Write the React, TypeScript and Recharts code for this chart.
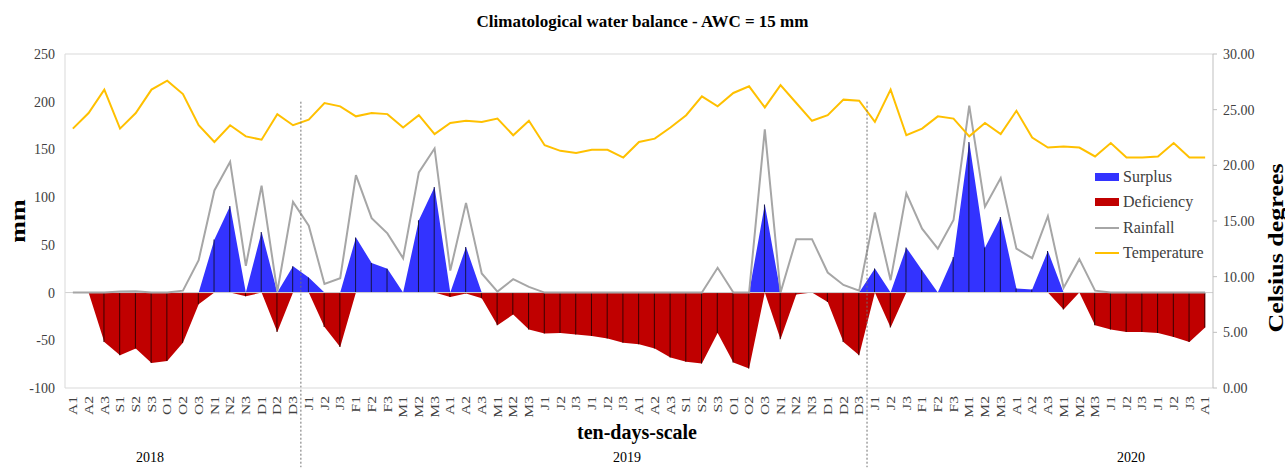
import React from 'react';
import { ComposedChart, Area, Line, Bar, XAxis, YAxis, ReferenceLine } from 'recharts';

const periodLabels = [
  'A1','A2','A3','S1','S2','S3','O1','O2','O3','N1','N2','N3','D1','D2','D3',
  'J1','J2','J3','F1','F2','F3','M1','M2','M3','A1','A2','A3','M1','M2','M3','J1','J2','J3','J1','J2','J3','A1','A2','A3','S1','S2','S3','O1','O2','O3','N1','N2','N3','D1','D2','D3',
  'J1','J2','J3','F1','F2','F3','M1','M2','M3','A1','A2','A3','M1','M2','M3','J1','J2','J3','J1','J2','J3','A1',
];

const temperature = [
  23.3, 24.7, 26.8, 23.3, 24.7, 26.8, 27.6, 26.4, 23.6, 22.1, 23.6, 22.6, 22.3, 24.6, 23.6,
  24.1, 25.6, 25.3, 24.4, 24.7, 24.6, 23.4, 24.5, 22.8, 23.8, 24.0, 23.9, 24.2, 22.7, 24.0, 21.8, 21.3, 21.1, 21.4, 21.4, 20.7, 22.1, 22.4, 23.4, 24.5, 26.2, 25.3, 26.5, 27.1, 25.2, 27.2, 25.6, 24.0, 24.5, 25.9, 25.8,
  23.9, 26.8, 22.7, 23.3, 24.4, 24.2, 22.6, 23.8, 22.8, 24.9, 22.5, 21.6, 21.7, 21.6, 20.8, 22.0, 20.7, 20.7, 20.8, 22.0, 20.7, 20.7,
];

const rainfall = [
  0, 0, 0, 1, 1.5, 0, 0, 2, 34, 107, 137, 28, 112, 1, 95,
  70, 9, 15, 123, 78, 62, 36, 126, 151, 23, 94, 20, 1, 14, 6, 0, 0, 0, 0, 0, 0, 0, 0, 0, 0, 0, 26, 0, 0, 171, 0, 56, 56, 21, 8, 2,
  84, 13, 104, 67, 46, 76, 196, 90, 120, 46, 36, 80, 5, 35, 2, 0, 0, 0, 0, 0, 0, 0,
];

const surplus = [
  0, 0, 0, 0, 0, 0, 0, 0, 0, 55.5, 90.7, 0, 63.5, 0, 27.5,
  15.7, 0, 0, 57.6, 31, 25, 0, 75.7, 110.6, 0, 47.7, 0, 0, 0, 0, 0, 0, 0, 0, 0, 0, 0, 0, 0, 0, 0, 0, 0, 0, 92.4, 0, 0, 0, 0, 0, 0,
  25.1, 0, 47.1, 23.5, 0, 37.3, 157.7, 47.1, 79.2, 4.2, 3.1, 43.6, 0, 0, 0, 0, 0, 0, 0, 0, 0, 0,
];

const deficiency = [
  0, 0, -51.7, -65.6, -58.7, -73.7, -71.6, -52.7, -12.2, 0, 0, -3.9, 0, -41.2, 0,
  0, -36, -57, 0, 0, 0, 0, 0, 0, -4.6, -1, -6, -34.2, -23, -38.8, -43, -42.3, -44, -45.4, -48, -52.7, -54.1, -58.7, -68.1, -72.6, -74.4, -42.3, -73.3, -79.6, 0, -48.9, -2, 0, -9.8, -51.7, -65.6,
  0, -36.5, 0, 0, 0, 0, 0, 0, 0, 0, 0, 0, -17.8, 0, -34.2, -38.8, -41.2, -41.2, -42.3, -46.5, -51.7, -36.7,
];

const yearLabels = ['2018', '2019', '2020'];
const yearBreaks = [14.5, 50.5];
const leftTicks = [-100, -50, 0, 50, 100, 150, 200, 250];
const rightTicks = [0, 5, 10, 15, 20, 25, 30];

const seriesNames = ['Surplus', 'Deficiency', 'Rainfall', 'Temperature'];

const data = periodLabels.map((label, i) => ({
  i,
  label,
  temperature: temperature[i],
  rainfall: rainfall[i],
  surplus: surplus[i],
  deficiency: deficiency[i],
}));

const xTicks = periodLabels.map((_, i) => i);

const FONT = '"Liberation Serif", "Times New Roman", serif';

const XTick = (props: any) => {
  const { x, y, payload } = props;
  return (
    <text
      x={x}
      y={y}
      transform={`rotate(-90 ${x} ${y}) translate(${x} ${y}) scale(1.3 1) translate(${-x} ${-y})`}
      textAnchor="end"
      dy="0.35em"
      fontSize={12}
      fill="#404040"
      fontFamily={FONT}
    >
      {periodLabels[payload.value]}
    </text>
  );
};

const legendItems = [
  { name: seriesNames[0], color: '#3333ff', kind: 'rect' },
  { name: seriesNames[1], color: '#c00000', kind: 'rect' },
  { name: seriesNames[2], color: '#a6a6a6', kind: 'line' },
  { name: seriesNames[3], color: '#ffc000', kind: 'line' },
];

export default function App() {
  return (
    <div style={{ position: 'absolute', left: 0, top: 0, width: 1285, height: 468, background: '#fff', fontFamily: FONT }}>
      <ComposedChart
        width={1285}
        height={468}
        data={data}
        stackOffset="sign"
        margin={{ top: 54, right: 0, bottom: 50, left: 0 }}
      >
        <XAxis
          dataKey="i"
          type="number"
          domain={[-0.5, 72.5]}
          ticks={xTicks}
          interval={0}
          tick={<XTick />}
          tickLine={false}
          axisLine={{ stroke: '#d9d9d9' }}
          height={30}
          allowDataOverflow
        />
        <YAxis
          yAxisId="left"
          domain={[-100, 250]}
          ticks={leftTicks}
          width={65}
          tickLine={false}
          axisLine={{ stroke: '#d9d9d9' }}
          tickMargin={4}
          tick={{ fontSize: 14, fill: '#404040', fontFamily: FONT }}
        />
        <YAxis
          yAxisId="right"
          orientation="right"
          domain={[0, 30]}
          ticks={rightTicks}
          width={72}
          tickSize={4}
          tickMargin={6}
          tickLine={{ stroke: '#bfbfbf' }}
          axisLine={{ stroke: '#bfbfbf' }}
          tickFormatter={(v: number) => v.toFixed(2)}
          tick={{ fontSize: 14, fill: '#404040', fontFamily: FONT }}
        />
        <ReferenceLine yAxisId="left" y={250} stroke="#d9d9d9" />
        <Area
          yAxisId="left"
          dataKey="surplus"
          type="linear"
          baseValue={0}
          fill="#3333ff"
          fillOpacity={1}
          stroke="none"
          isAnimationActive={false}
        />
        <Area
          yAxisId="left"
          dataKey="deficiency"
          type="linear"
          baseValue={0}
          fill="#c00000"
          fillOpacity={1}
          stroke="none"
          isAnimationActive={false}
        />
        <Bar yAxisId="left" dataKey="surplus" stackId="drop" barSize={1} fill="#14144a" isAnimationActive={false} />
        <Bar yAxisId="left" dataKey="deficiency" stackId="drop" barSize={1} fill="#3a0000" isAnimationActive={false} />
        <ReferenceLine yAxisId="left" y={0} stroke="#cfcfcf" />
        <Line
          yAxisId="left"
          dataKey="rainfall"
          type="linear"
          stroke="#a6a6a6"
          strokeWidth={2}
          dot={false}
          isAnimationActive={false}
        />
        <Line
          yAxisId="right"
          dataKey="temperature"
          type="linear"
          stroke="#ffc000"
          strokeWidth={2}
          dot={false}
          isAnimationActive={false}
        />
        {yearBreaks.map((b) => (
          <ReferenceLine
            key={b}
            yAxisId="left"
            ifOverflow="visible"
            segment={[{ x: b, y: 200 }, { x: b, y: -183 }]}
            stroke="#707070"
            strokeDasharray="2 2"
          />
        ))}
      </ComposedChart>

      <div style={{ position: 'absolute', left: 0, top: 11, width: 1285, textAlign: 'center', fontWeight: 'bold', fontSize: 17, color: '#000', lineHeight: '22px' }}>
        Climatological water balance - AWC = 15 mm
      </div>

      <div style={{ position: 'absolute', left: 18, top: 221, transform: 'translate(-50%, -50%) rotate(-90deg) scaleX(1.3)', fontWeight: 'bold', fontSize: 20, whiteSpace: 'nowrap', color: '#000' }}>
        mm
      </div>
      <div style={{ position: 'absolute', left: 1276, top: 248, transform: 'translate(-50%, -50%) rotate(-90deg) scaleX(1.3)', fontWeight: 'bold', fontSize: 20, whiteSpace: 'nowrap', color: '#000' }}>
        Celsius degrees
      </div>
      <div style={{ position: 'absolute', left: 637, top: 432, transform: 'translate(-50%, -50%)', fontWeight: 'bold', fontSize: 20, whiteSpace: 'nowrap', color: '#000' }}>
        ten-days-scale
      </div>

      {yearLabels.map((y, k) => (
        <div
          key={y}
          style={{ position: 'absolute', left: [150, 627, 1131][k], top: 458, transform: 'translate(-50%, -50%)', fontSize: 14, color: '#000', whiteSpace: 'nowrap' }}
        >
          {y}
        </div>
      ))}

      <div style={{ position: 'absolute', left: 1095, top: 164, fontSize: 16, color: '#404040' }}>
        {legendItems.map((it) => (
          <div key={it.name} style={{ display: 'flex', alignItems: 'center', height: 25.5 }}>
            <div style={{ width: 24, height: it.kind === 'rect' ? 8 : 2, background: it.color, marginRight: 4 }} />
            <span>{it.name}</span>
          </div>
        ))}
      </div>
    </div>
  );
}
